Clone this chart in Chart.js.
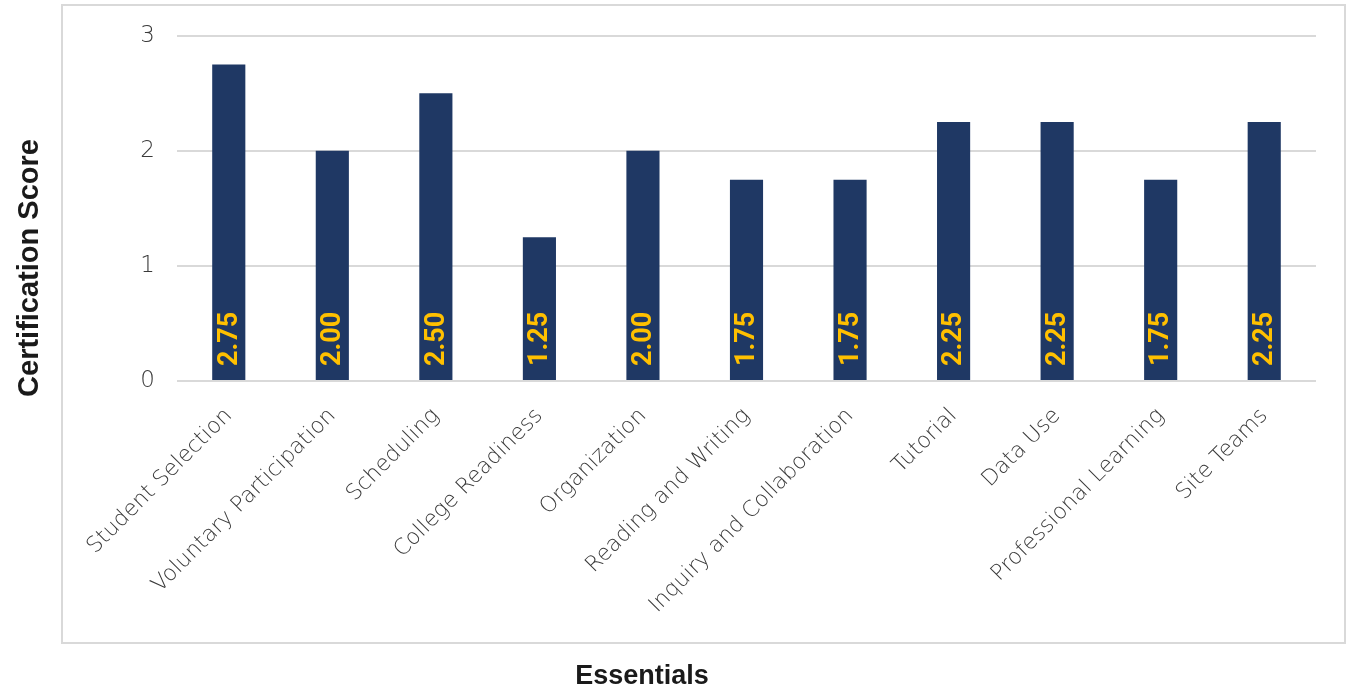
<!DOCTYPE html>
<html>
<head>
<meta charset="utf-8">
<title>Certification Score by Essential</title>
<script src="https://cdn.jsdelivr.net/npm/chart.js@4.4.1/dist/chart.umd.min.js"></script>
<style>
  html, body { margin: 0; padding: 0; background: #fff; }
  #wrap { position: relative; width: 1346px; height: 694px; }
</style>
</head>
<body>
<div id="wrap"><canvas id="scores" width="1346" height="694"></canvas></div>
<script>
var essentials = ["Student Selection", "Voluntary Participation", "Scheduling", "College Readiness",
    "Organization", "Reading and Writing", "Inquiry and Collaboration", "Tutorial", "Data Use",
    "Professional Learning", "Site Teams"];
var scores = [2.75, 2.00, 2.50, 1.25, 2.00, 1.75, 1.75, 2.25, 2.25, 1.75, 2.25];
var yTicks = [0, 1, 2, 3];

var axisGrey = '#3a3a3a';
var navy = '#1f3864';
var gold = '#ffc000';

// light frame around the plot plus the two axis titles, which sit outside the frame
var frame = {
    id: 'frame',
    beforeDraw: function(chart) {
        var c = chart.ctx;
        c.save();
        c.strokeStyle = '#d9d9d9';
        c.lineWidth = 2;
        c.strokeRect(62, 5, 1283, 638);

        c.fillStyle = '#1a1a1a';
        c.textAlign = 'center';
        c.textBaseline = 'middle';
        c.font = 'bold 27px "Liberation Sans"';
        c.fillText('Essentials', 642, 677);

        c.translate(30, 268);
        c.rotate(-Math.PI / 2);
        c.font = 'bold 29px "Liberation Sans"';
        c.fillText('Certification Score', 0, 0);
        c.restore();
    }
};

// value printed sideways near the foot of each bar
var barValues = {
    id: 'barValues',
    afterDatasetsDraw: function(chart) {
        var c = chart.ctx;
        var meta = chart.getDatasetMeta(0);
        c.save();
        c.fillStyle = gold;
        c.font = 'bold 27px Roboto';
        c.textAlign = 'left';
        c.textBaseline = 'middle';
        meta.data.forEach(function(bar, i) {
            c.save();
            c.translate(bar.x, bar.base - 14);
            c.rotate(-Math.PI / 2);
            c.fillText(scores[i].toFixed(2), 0, 1);
            c.restore();
        });
        c.restore();
    }
};

new Chart(document.getElementById('scores'), {
    type: 'bar',
    data: {
        labels: essentials,
        datasets: [{
            data: scores,
            backgroundColor: navy,
            borderWidth: 0,
            barPercentage: 0.32,
            categoryPercentage: 1
        }]
    },
    options: {
        responsive: false,
        animation: false,
        layout: { padding: { top: 35, right: 30, left: 0, bottom: 0 } },
        plugins: {
            legend: { display: false },
            tooltip: { enabled: false }
        },
        scales: {
            x: {
                grid: { display: false },
                border: { display: false },
                ticks: {
                    color: axisGrey,
                    font: { family: 'DejaVu Sans', weight: 200, size: 22 },
                    minRotation: 45,
                    maxRotation: 45,
                    autoSkip: false,
                    padding: 14
                },
                afterFit: function(scale) { scale.height = 313; }
            },
            y: {
                min: 0,
                max: 3,
                afterBuildTicks: function(scale) {
                    scale.ticks = yTicks.map(function(v) { return { value: v }; });
                },
                grid: { color: '#d9d9d9', lineWidth: 2, drawTicks: false },
                border: { display: false },
                ticks: {
                    color: axisGrey,
                    font: { family: 'DejaVu Sans', weight: 200, size: 23 },
                    padding: 22
                },
                afterFit: function(scale) { scale.width = 177; }
            }
        }
    },
    plugins: [frame, barValues]
});
</script>
</body>
</html>
